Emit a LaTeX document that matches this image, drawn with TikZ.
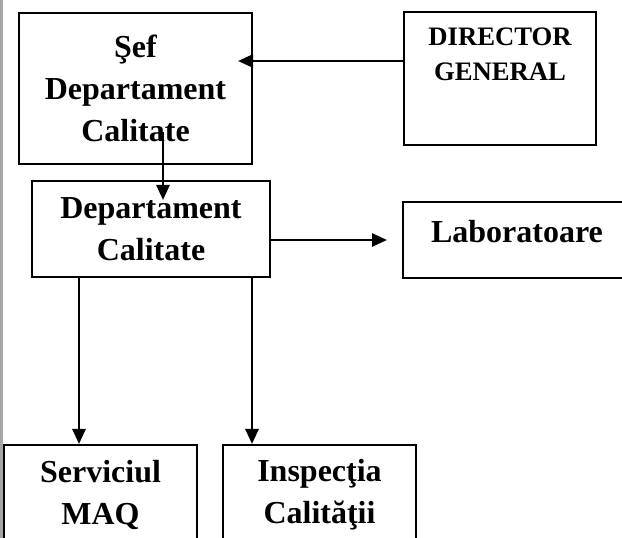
\documentclass[tikz,border=0pt]{standalone}
\usepackage{fontspec}
\setmainfont{Liberation Serif}
\usetikzlibrary{arrows.meta,calc}
\definecolor{edgegray}{RGB}{165,165,165}
\begin{document}
\begin{tikzpicture}[x=0.75pt,y=-0.75pt,
  box/.style={draw, line width=1.5pt, inner sep=0pt, align=center,
    font=\bfseries\fontsize{24}{31.5}\selectfont},
  lbl/.style={inner sep=0pt, align=center, font=\bfseries\fontsize{20}{26.25}\selectfont},
  arr/.style={line width=2pt, -{Triangle[length=11.25pt,width=9.75pt]}}]
\useasboundingbox (0,0) rectangle (622,538);
\clip (0,0) rectangle (622,538);
\fill[edgegray] (0,0) rectangle (3,538);
% boxes
\node[box, minimum width=174.75pt, minimum height=113.25pt] (sef) at (135.5,88.5)
  {Şef\\Departament\\Calitate};
\node[box, minimum width=144pt, minimum height=99.75pt,
  label={[lbl, anchor=north, yshift=-12.75pt]north:DIRECTOR\\GENERAL}] (dg) at (500,78.5) {};
\node[box, minimum width=178.5pt, minimum height=72pt] (dept) at (151,229)
  {Departament\\Calitate};
\node[box, minimum width=171pt, minimum height=57pt, text height=16.5pt, text depth=12pt] (lab) at (517,240)
  {Laboratoare};
\node[box, minimum width=144.75pt, minimum height=75pt] (serv) at (100.5,495)
  {Serviciul\\MAQ};
\node[box, minimum width=144.75pt, minimum height=75pt] (insp) at (319.5,495)
  {Inspecţia\\Calităţii};
% connectors
\coordinate (ya) at (0,61);
\coordinate (xb) at (163,132);
\coordinate (xc) at (79,0);
\coordinate (xd) at (252,0);
\draw[arr, shorten >=-11.25pt] (dg.west |- ya) -- (sef.east |- ya);
\draw[arr, shorten >=-15pt] (xb) -- (xb |- dept.north);
\draw[arr, shorten >=11.25pt] (dept.east |- lab.west) -- (lab.west);
\draw[arr] (dept.south -| xc) -- (serv.north -| xc);
\draw[arr] (dept.south -| xd) -- (insp.north -| xd);
\end{tikzpicture}
\end{document}
